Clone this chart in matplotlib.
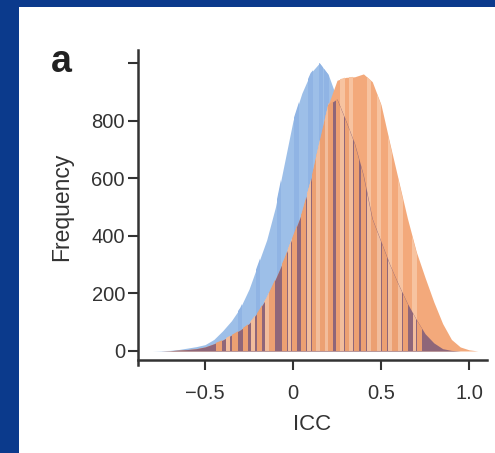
import numpy as np
import matplotlib
matplotlib.use('Agg')
import matplotlib.pyplot as plt
from matplotlib.patches import Rectangle

plt.rcParams['font.family'] = ['Liberation Sans', 'DejaVu Sans']

# ICC grid and frequencies
icc = [-0.85, -0.8, -0.75, -0.7, -0.65, -0.6, -0.55, -0.5, -0.45, -0.4,
       -0.35, -0.3, -0.25, -0.2, -0.15, -0.1, -0.05, 0.0, 0.05, 0.1,
       0.15, 0.2, 0.25, 0.3, 0.35, 0.4, 0.45, 0.5, 0.55, 0.6,
       0.65, 0.7, 0.75, 0.8, 0.85, 0.9, 0.95, 1.0, 1.05]
freq_blue = [0, 0, 1, 2, 5, 10, 15, 22, 40, 70,
             105, 150, 215, 300, 385, 500, 650, 800, 895, 965,
             1000, 960, 875, 800, 720, 610, 460, 380, 300, 230,
             165, 110, 60, 28, 8, 2, 0, 0, 0]
freq_orange = [0, 0, 0, 1, 3, 5, 8, 14, 25, 38,
               55, 73, 95, 135, 185, 250, 320, 400, 480, 590,
               725, 855, 940, 950, 952, 962, 935, 855, 720, 590,
               460, 345, 255, 170, 95, 40, 14, 4, 0]

# light stripes seen in the bars
stripes_orange = [-0.42, -0.33, -0.27, -0.19, -0.12, -0.05, 0.01, 0.06, 0.12, 0.17,
                  0.21, 0.26, 0.31, 0.36, 0.40, 0.46, 0.52, 0.58, 0.64, 0.72]
stripes_peach = [-0.37, -0.23, -0.15, -0.02, 0.09, 0.14, 0.19, 0.28, 0.33, 0.43,
                 0.49, 0.55, 0.61, 0.69]
stripes_blue = [-0.3, -0.2, -0.08, 0.02, 0.1, 0.16, 0.19]

xticks = [-0.5, 0, 0.5, 1.0]
xticklabels = ['\u22120.5', '0', '0.5', '1.0']
yticks = [0, 200, 400, 600, 800, 1000]
yticklabels = ['0', '200', '400', '600', '800', '']

W, H = 495, 453
fig = plt.figure(figsize=(W / 100, H / 100), dpi=100, facecolor='#0b3a8c')
fig.add_artist(Rectangle((19 / W, 0), 1, (H - 7) / H, transform=fig.transFigure,
                         facecolor='white', edgecolor='none', zorder=0))

ax = fig.add_axes([138 / W, (H - 365) / H, 349 / W, 315 / H])
ax.patch.set_alpha(0)

x = np.array(icc)
b = np.array(freq_blue)
o = np.array(freq_orange)
both = np.minimum(b, o)


def stripes(pos, width, color, clip, z):
    bars = ax.bar(pos, 1100, width=width, color=color, lw=0, zorder=z)
    for p in bars:
        p.set_clip_path(clip.get_paths()[0], ax.transData)


poly_b = ax.fill_between(x, 0, b, color='#9dbfe8', lw=0, zorder=1)
stripes(stripes_blue, 0.025, '#90b4e4', poly_b, 1.5)

poly_o = ax.fill_between(x, 0, o, color='#f3a97b', lw=0, zorder=2)
stripes(stripes_peach, 0.025, '#f7c3a0', poly_o, 2.5)

poly_m = ax.fill_between(x, 0, both, color='#8f6679', lw=0, zorder=3)
stripes(stripes_orange, 0.03, '#eca072', poly_m, 3.5)
stripes(stripes_peach, 0.022, '#f2bd9c', poly_m, 3.6)

ax.set_xlim(-0.881, 1.102)
ax.set_ylim(-48.7, 1045)
ax.spines['top'].set_visible(False)
ax.spines['right'].set_visible(False)
ax.spines['bottom'].set_position(('data', -31))
for sp in ['left', 'bottom']:
    ax.spines[sp].set_linewidth(1.8)
    ax.spines[sp].set_color('#333333')

ax.set_xticks(xticks)
ax.set_xticklabels(xticklabels)
ax.set_yticks(yticks)
ax.set_yticklabels(yticklabels)
ax.tick_params(axis='both', length=7.2, width=1.5, color='#333333',
               labelsize=14.5, labelcolor='#333333')
ax.tick_params(axis='x', pad=10)
ax.tick_params(axis='y', pad=2.2)

fig.text(312 / W, 1 - 424 / H, 'ICC', ha='center', va='center',
         fontsize=16, color='#333333')
fig.text(62 / W, 1 - 207 / H, 'Frequency', ha='center', va='center',
         rotation=90, fontsize=16.5, color='#333333')
fig.text(61 / W, 1 - 72 / H, 'a', ha='center', va='baseline',
         fontsize=27, weight='bold', color='#222222')

fig.savefig('out.png', dpi=100, facecolor=fig.get_facecolor())
